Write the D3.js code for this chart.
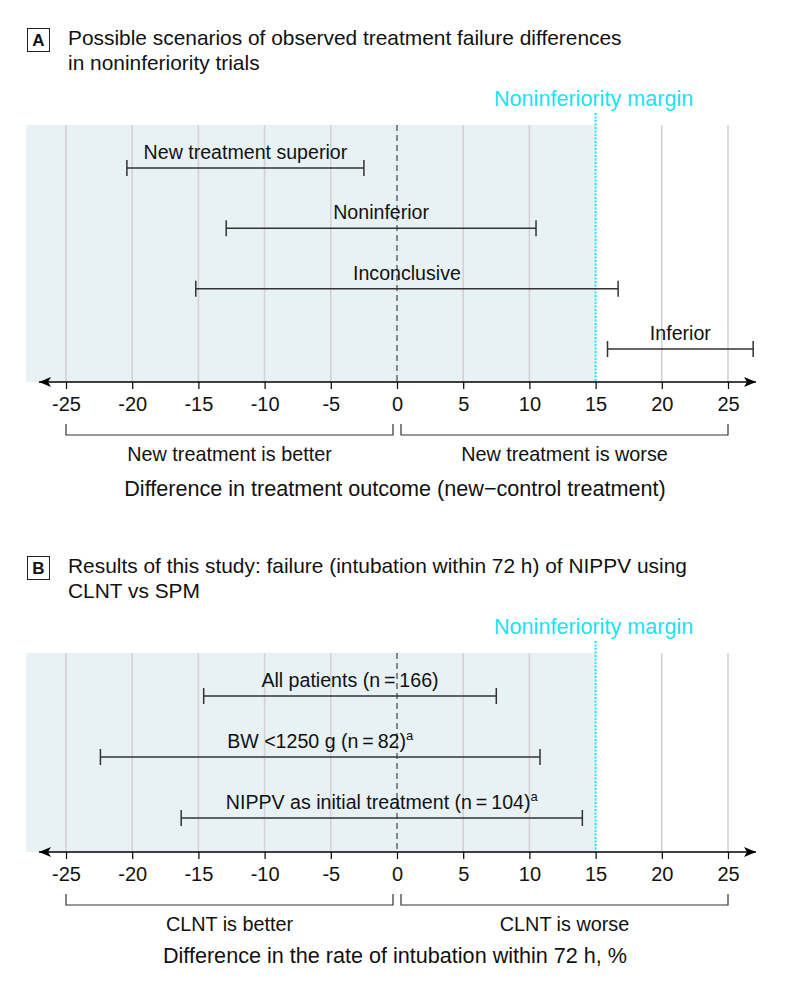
<!DOCTYPE html>
<html>
<head>
<meta charset="utf-8">
<script src="https://cdn.jsdelivr.net/npm/d3@7"></script>
<style>
  html, body { margin: 0; padding: 0; background: #fff; }
  svg { display: block; }
  text { font-family: "Liberation Sans", Arial, sans-serif; fill: #111; }
</style>
</head>
<body>
<svg id="chart" width="794" height="986"></svg>
<script>
// ---------- DATA ----------
const tickValues = [-25, -20, -15, -10, -5, 0, 5, 10, 15, 20, 25];
const tickLabels = ["-25", "-20", "-15", "-10", "-5", "0", "5", "10", "15", "20", "25"];
const marginValue = 15;

const scenarioLabels = ["New treatment superior", "Noninferior", "Inconclusive", "Inferior"];
const scenarioLower = [-20.4, -12.9, -15.2, 15.9];
const scenarioUpper = [-2.5, 10.5, 16.7, 26.9];

const studyLabels = ["All patients (n\u2009=\u2009166)", "BW <1250 g (n\u2009=\u200982)", "NIPPV as initial treatment (n\u2009=\u2009104)"];
const studySuperscripts = ["", "a", "a"];
const studyLower = [-14.6, -22.4, -16.3];
const studyUpper = [7.5, 10.8, 14.0];

const panelLetters = ["A", "B"];
const panelTitles = [
  ["Possible scenarios of observed treatment failure differences", "in noninferiority trials"],
  ["Results of this study: failure (intubation within 72 h) of NIPPV using", "CLNT vs SPM"]
];
const bracketLabels = [
  ["New treatment is better", "New treatment is worse"],
  ["CLNT is better", "CLNT is worse"]
];
const axisTitles = [
  "Difference in treatment outcome (new\u2212control treatment)",
  "Difference in the rate of intubation within 72 h, %"
];
const marginLabel = "Noninferiority margin";

// ---------- DRAW ----------
const svg = d3.select("#chart");
const x = d3.scaleLinear().domain([-25, 25]).range([66, 728]);

const defs = svg.append("defs");
defs.append("marker").attr("id", "arrR").attr("viewBox", "0 0 12 10")
  .attr("refX", 12).attr("refY", 5).attr("markerWidth", 12).attr("markerHeight", 10)
  .attr("markerUnits", "userSpaceOnUse").attr("orient", "auto")
  .append("path").attr("d", "M0,0 L12,5 L0,10 L3,5 Z").attr("fill", "#000");
defs.append("marker").attr("id", "arrL").attr("viewBox", "0 0 12 10")
  .attr("refX", 12).attr("refY", 5).attr("markerWidth", 12).attr("markerHeight", 10)
  .attr("markerUnits", "userSpaceOnUse").attr("orient", "auto-start-reverse")
  .append("path").attr("d", "M0,0 L12,5 L0,10 L3,5 Z").attr("fill", "#000");

const cyan = "#19e4f2";

function drawPanel(p) {
  const g = svg.append("g");
  // title box + title
  g.append("rect").attr("x", 27.5).attr("y", p.titleBase[0] - 16.5).attr("width", 22).attr("height", 23)
    .attr("fill", "#fff").attr("stroke", "#222").attr("stroke-width", 1);
  g.append("text").attr("x", 38.5).attr("y", p.titleBase[0] + 0.5).attr("text-anchor", "middle")
    .style("font-size", "17px").style("font-weight", "bold").text(p.letter);
  p.title.forEach((t, i) => {
    g.append("text").attr("x", 68).attr("y", p.titleBase[i]).style("font-size", "20.9px").text(t);
  });

  // shaded noninferiority region
  g.append("rect").attr("x", 26).attr("y", p.shadeTop)
    .attr("width", x(marginValue) - 26).attr("height", p.axisY - p.shadeTop)
    .attr("fill", "#e8f2f4");

  // grid lines
  g.selectAll(".grid").data(tickValues.filter(v => v !== 0 && v !== marginValue)).enter()
    .append("line").attr("x1", d => x(d)).attr("x2", d => x(d))
    .attr("y1", p.shadeTop).attr("y2", p.axisY)
    .attr("stroke", "#d3d3d3").attr("stroke-width", 1.6);

  // zero dashed line
  g.append("line").attr("x1", x(0)).attr("x2", x(0)).attr("y1", p.shadeTop).attr("y2", p.axisY)
    .attr("stroke", "#666").attr("stroke-width", 1.5).attr("stroke-dasharray", "6,4");

  // margin line
  g.append("line").attr("x1", x(marginValue)).attr("x2", x(marginValue))
    .attr("y1", p.shadeTop - 12).attr("y2", p.axisY)
    .attr("stroke", cyan).attr("stroke-width", 2).attr("stroke-dasharray", "2,1.5");
  g.append("text").attr("x", x(marginValue) - 2).attr("y", p.shadeTop - 19)
    .attr("text-anchor", "middle").style("font-size", "21.6px").style("fill", cyan).text(marginLabel);

  // intervals
  const y = d3.scalePoint().domain(p.labels).range(p.rowRange);
  const rows = g.selectAll(".row").data(p.labels.map((l, i) => ({l, lo: p.lower[i], hi: p.upper[i], sup: p.sup ? p.sup[i] : ""})))
    .enter().append("g");
  rows.append("line").attr("x1", d => x(d.lo)).attr("x2", d => x(d.hi))
    .attr("y1", d => y(d.l)).attr("y2", d => y(d.l)).attr("stroke", "#333").attr("stroke-width", 1.5);
  rows.append("line").attr("x1", d => x(d.lo)).attr("x2", d => x(d.lo))
    .attr("y1", d => y(d.l) - 8).attr("y2", d => y(d.l) + 8).attr("stroke", "#333").attr("stroke-width", 1.5);
  rows.append("line").attr("x1", d => x(d.hi)).attr("x2", d => x(d.hi))
    .attr("y1", d => y(d.l) - 8).attr("y2", d => y(d.l) + 8).attr("stroke", "#333").attr("stroke-width", 1.5);
  const lt = rows.append("text").attr("x", d => (x(d.lo) + x(d.hi)) / 2).attr("y", d => y(d.l) - 9)
    .attr("text-anchor", "middle").style("font-size", "19.6px");
  lt.append("tspan").text(d => d.l);
  lt.append("tspan").attr("dy", -8).style("font-size", "13px").text(d => d.sup);

  // axis
  g.append("line").attr("x1", 39).attr("x2", 756).attr("y1", p.axisY).attr("y2", p.axisY)
    .attr("stroke", "#000").attr("stroke-width", 1.5)
    .attr("marker-end", "url(#arrR)").attr("marker-start", "url(#arrL)");
  const axis = d3.axisBottom(x).tickValues(tickValues).tickSize(7).tickPadding(8)
    .tickFormat((d, i) => tickLabels[i]);
  const ag = g.append("g").attr("transform", `translate(0,${p.axisY})`).call(axis);
  ag.select(".domain").remove();
  ag.selectAll(".tick line").attr("stroke", "#000").attr("stroke-width", 1.2);
  ag.selectAll(".tick text").style("font-size", "20px").style("font-family", "'Liberation Sans', Arial, sans-serif").attr("fill", "#111");

  // brackets
  const bTop = p.axisY + 42, bBot = p.axisY + 53;
  const br = [[x(-25), x(0) - 4], [x(0) + 4, x(25)]];
  br.forEach((b, i) => {
    g.append("path").attr("d", `M${b[0]},${bTop} V${bBot} H${b[1]} V${bTop}`)
      .attr("fill", "none").attr("stroke", "#333").attr("stroke-width", 1.2);
    g.append("text").attr("x", (b[0] + b[1]) / 2).attr("y", p.axisY + 79).attr("text-anchor", "middle")
      .style("font-size", "19.8px").text(p.brackets[i]);
  });
  g.append("text").attr("x", x(0) - 2).attr("y", p.axisY + p.titleOff).attr("text-anchor", "middle")
    .style("font-size", "21.6px").text(p.axisTitle);
}

drawPanel({
  letter: panelLetters[0], title: panelTitles[0], titleBase: [45, 70],
  shadeTop: 125, axisY: 382, rowRange: [168, 349],
  labels: scenarioLabels, lower: scenarioLower, upper: scenarioUpper,
  brackets: bracketLabels[0], axisTitle: axisTitles[0], titleOff: 114
});
drawPanel({
  letter: panelLetters[1], title: panelTitles[1], titleBase: [573, 598],
  shadeTop: 653, axisY: 852, rowRange: [696, 818],
  labels: studyLabels, lower: studyLower, upper: studyUpper, sup: studySuperscripts,
  brackets: bracketLabels[1], axisTitle: axisTitles[1], titleOff: 111
});
</script>
</body>
</html>
